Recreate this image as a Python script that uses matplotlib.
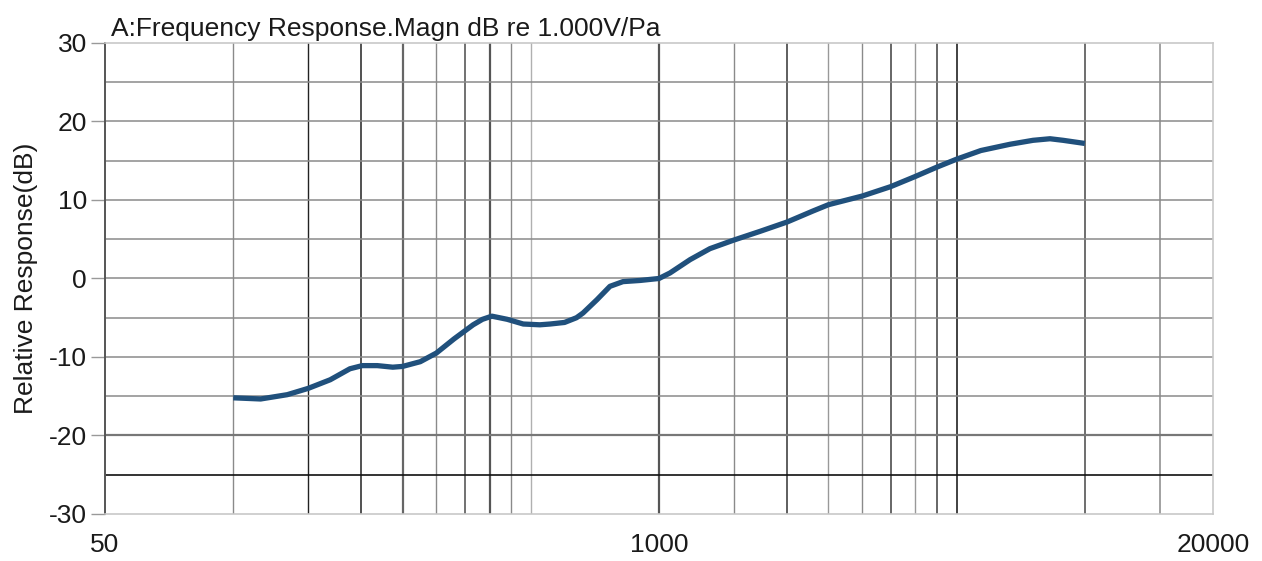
import matplotlib.pyplot as plt
from matplotlib.ticker import FixedLocator, NullLocator

plt.rcParams['font.family'] = ['Liberation Sans', 'DejaVu Sans']
plt.rcParams['axes.unicode_minus'] = False

freq = [100, 116, 134, 150, 169, 188, 201, 218, 237, 250, 275, 300, 330, 366,
        385, 405, 440, 480, 525, 555, 600, 640, 663, 715, 767, 823, 903, 1000,
        1061, 1183, 1317, 1500, 1726, 2000, 2300, 2500, 3000, 3500, 4000,
        4500, 5000, 5700, 6676, 7557, 8283, 8890, 10000]
resp = [-15.2, -15.35, -14.8, -14.0, -12.9, -11.5, -11.1, -11.1, -11.3, -11.2,
        -10.6, -9.5, -7.7, -5.9, -5.2, -4.8, -5.2, -5.8, -5.9, -5.8, -5.6,
        -5.0, -4.4, -2.7, -1.0, -0.4, -0.25, 0.0, 0.7, 2.4, 3.8, 4.9, 6.0,
        7.2, 8.6, 9.4, 10.5, 11.7, 13.0, 14.2, 15.2, 16.3, 17.1, 17.6, 17.8,
        17.6, 17.2]

x_ticks = [50, 1000, 20000]
y_ticks = [-30, -20, -10, 0, 10, 20, 30]

# vertical grid lines (freq, colour, width)
vgrid = [(100, '#8a8a8a', 1.0), (150, '#222222', 1.0), (200, '#222222', 1.1),
         (250, '#666666', 1.6), (300, '#8a8a8a', 1.0), (350, '#666666', 1.3),
         (400, '#555555', 1.6), (450, '#8a8a8a', 1.0), (500, '#b0b0b0', 1.0),
         (1000, '#555555', 1.6), (1500, '#8a8a8a', 1.0), (2000, '#333333', 1.1),
         (2500, '#999999', 1.0), (3000, '#8a8a8a', 1.0), (3500, '#666666', 1.4),
         (4000, '#999999', 1.0), (4500, '#666666', 1.4), (5000, '#333333', 1.3),
         (10000, '#555555', 1.2), (15000, '#888888', 1.1)]
# horizontal grid lines (dB, colour, width)
hgrid = [(25, '#8a8a8a', 1.1), (20, '#8a8a8a', 1.1), (15, '#8a8a8a', 1.1),
         (10, '#8a8a8a', 1.1), (5, '#8a8a8a', 1.1), (0, '#8a8a8a', 1.1),
         (-5, '#8a8a8a', 1.1), (-10, '#8a8a8a', 1.1), (-15, '#8a8a8a', 1.1),
         (-20, '#777777', 1.6), (-25, '#111111', 1.2)]

fig = plt.figure(figsize=(12.62, 5.61), dpi=100)
ax = fig.add_axes([0.0832, 0.0838, 0.878, 0.8396])

for f, c, w in vgrid:
    ax.axvline(f, color=c, lw=w, zorder=1)
for v, c, w in hgrid:
    ax.axhline(v, color=c, lw=w, zorder=1)

ax.plot(freq, resp, color='#20507c', lw=3.8, solid_capstyle='butt',
        solid_joinstyle='round', zorder=3)

ax.set_xscale('log')
ax.set_xlim(50, 20000)
ax.set_ylim(-30, 30)
ax.xaxis.set_major_locator(FixedLocator(x_ticks))
ax.xaxis.set_minor_locator(NullLocator())
ax.set_xticklabels([str(t) for t in x_ticks])
ax.set_yticks(y_ticks)

ax.tick_params(axis='x', length=0, pad=14, labelsize=19, labelcolor='#1a1a1a')
ax.tick_params(axis='y', length=10, width=1, color='#999999', pad=3,
               labelsize=19, labelcolor='#1a1a1a')

for s in ['top', 'right', 'bottom']:
    ax.spines[s].set_color('#c8c8c8')
    ax.spines[s].set_linewidth(1.2)
ax.spines['left'].set_color('#555555')
ax.spines['left'].set_linewidth(1.4)

ax.set_ylabel('Relative Response(dB)', fontsize=19, color='#1a1a1a', labelpad=8)
ax.set_title('A:Frequency Response.Magn dB re 1.000V/Pa', loc='left',
             fontsize=19, color='#1a1a1a', pad=5, x=0.005)

fig.savefig('out.png', dpi=100)
